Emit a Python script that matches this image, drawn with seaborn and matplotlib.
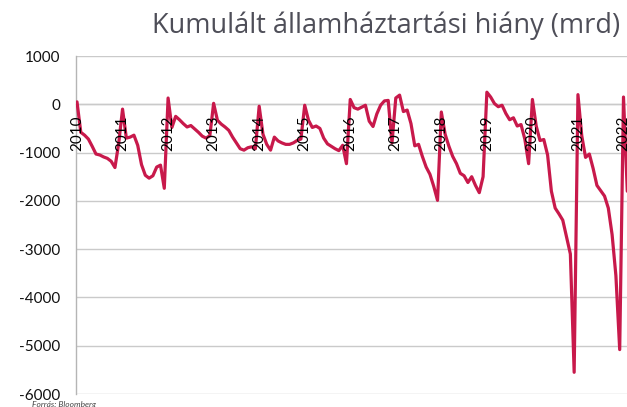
import matplotlib
matplotlib.use("Agg")
import matplotlib.pyplot as plt
import seaborn as sns
import pandas as pd

# ---- data (monthly cumulative deficit, Jan..Dec per year) ----
years = list(range(2010, 2023))
v2010 = [50, -580, -640, -720, -870, -1030, -1050, -1090, -1120, -1180, -1310, -800]
v2011 = [-100, -700, -680, -640, -850, -1250, -1470, -1530, -1480, -1300, -1260, -1740]
v2012 = [130, -480, -250, -320, -400, -470, -440, -510, -580, -660, -700, -650]
v2013 = [20, -330, -410, -470, -540, -680, -800, -920, -950, -900, -880, -920]
v2014 = [-40, -620, -830, -950, -680, -760, -800, -830, -830, -800, -750, -720]
v2015 = [-20, -330, -480, -450, -500, -700, -820, -870, -920, -960, -850, -1230]
v2016 = [100, -70, -100, -60, -20, -350, -460, -200, -20, 70, 80, -800]
v2017 = [130, 190, -150, -120, -400, -860, -830, -1080, -1300, -1450, -1700, -1990]
v2018 = [-160, -620, -870, -1080, -1230, -1430, -1480, -1620, -1500, -1680, -1830, -1500]
v2019 = [250, 150, 15, -50, -20, -190, -320, -280, -450, -420, -720, -1230]
v2020 = [100, -450, -750, -730, -1050, -1800, -2150, -2270, -2400, -2750, -3100, -5550]
v2021 = [200, -650, -1100, -1030, -1330, -1680, -1790, -1900, -2150, -2700, -3550, -5080]
v2022 = [150, -1800]
series = [v2010, v2011, v2012, v2013, v2014, v2015, v2016,
          v2017, v2018, v2019, v2020, v2021, v2022]
tick_labels = [str(y) for y in years]
yticks = [1000, 0, -1000, -2000, -3000, -4000, -5000, -6000]
ytick_labels = [str(v) for v in yticks]
title = "Kumulált államháztartási hiány (mrd)"
source = "Forrás: Bloomberg"

rows = []
for yr, vals in zip(years, series):
    for m, v in enumerate(vals):
        rows.append((yr + m / 12.0, v))
df = pd.DataFrame(rows, columns=["t", "deficit"])

sns.set_theme(style="white")
plt.rcParams["font.family"] = ["Lato", "DejaVu Sans"]

W, H = 627, 407
fig = plt.figure(figsize=(W / 100, H / 100), dpi=100)
ax = fig.add_axes([76 / W, 1 - 394 / H, 1 - 76 / W, (394 - 56) / H])

ax.grid(axis="y", color="#cacaca", lw=1)
ax.grid(axis="x", visible=False)
sns.lineplot(data=df, x="t", y="deficit", ax=ax, color="#C8194B", lw=2.3, zorder=3)

ax.set_xlim(2009.978, 2022.077)
ax.set_ylim(-6000, 1000)
ax.set_yticks(yticks)
ax.set_yticklabels(ytick_labels)
ax.set_xticks(years)
ax.set_xticklabels(tick_labels)
for lab in ax.get_xticklabels():
    lab.set_family(["Liberation Sans", "DejaVu Sans"])
ax.set_xlabel("")
ax.set_ylabel("")
ax.xaxis.set_zorder(4)

for s in ["top", "right"]:
    ax.spines[s].set_visible(False)
ax.spines["bottom"].set_position(("data", 0))
ax.spines["bottom"].set_color("#cacaca")
ax.spines["bottom"].set_linewidth(1)
ax.spines["bottom"].set_zorder(1)
ax.spines["left"].set_color("#b5b5b5")
ax.spines["left"].set_linewidth(1)

ax.tick_params(axis="x", direction="inout", length=10, width=1, color="#a8a8a8",
               pad=3, labelsize=11, labelcolor="#000000", labelrotation=90)
ax.tick_params(axis="y", direction="out", length=6, width=1, color="#cacaca",
               pad=5, labelsize=11, labelcolor="#111111")

fig.text(620 / W, 1 - 33 / H, title, ha="right", va="baseline",
         fontsize=19.5, color="#4e4e58", family=["Open Sans", "DejaVu Sans"])
fig.text(32 / W, 1 - 401 / H, source, ha="left", va="top",
         fontsize=6, style="italic", color="#444444")

fig.savefig("out.png", dpi=100)
